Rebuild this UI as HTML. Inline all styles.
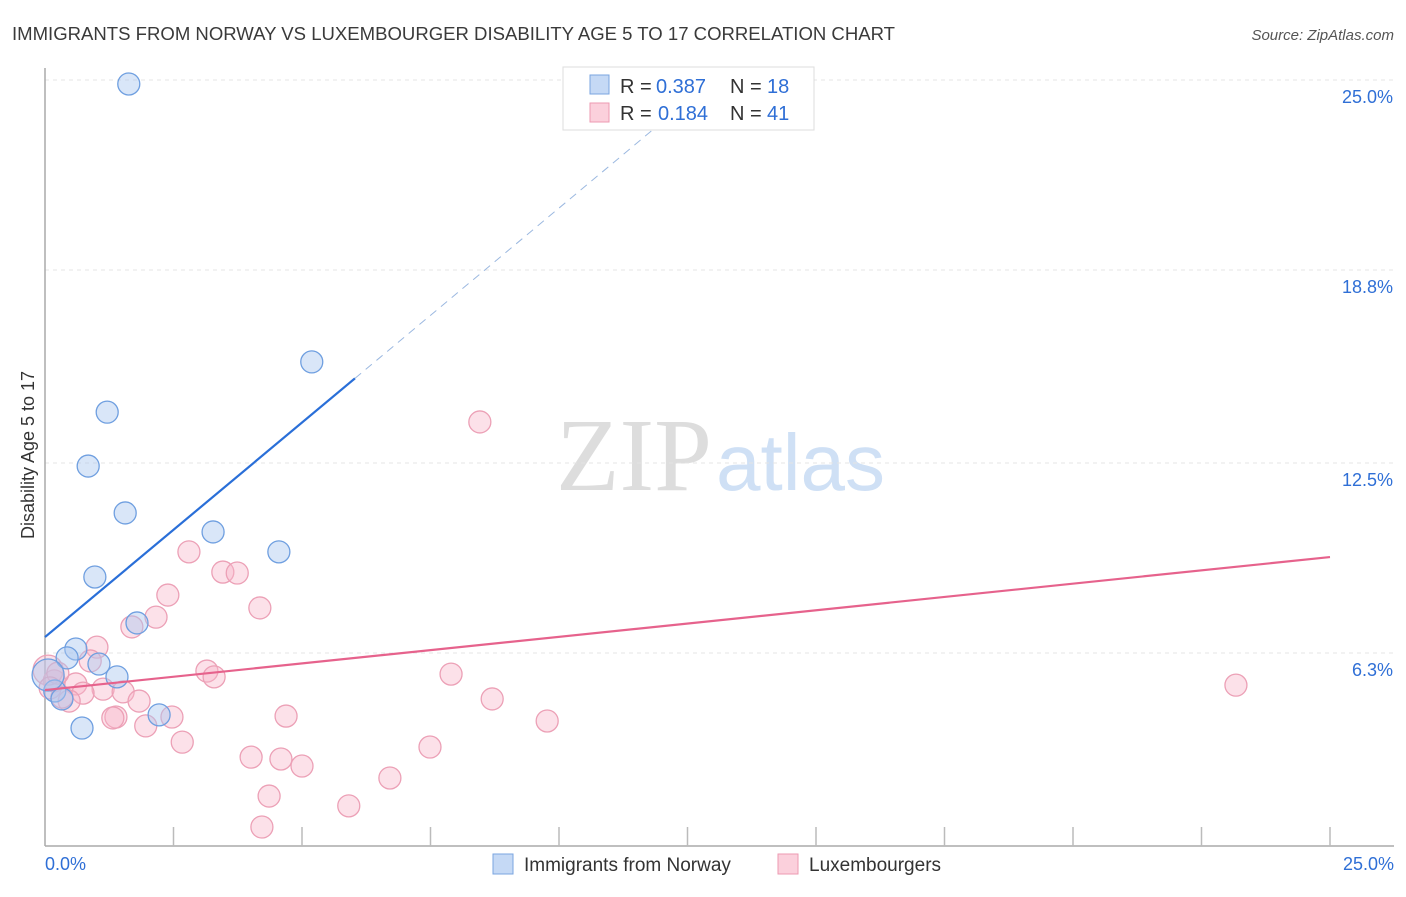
<!DOCTYPE html>
<html><head><meta charset="utf-8"><style>
body{margin:0;background:#fff;font-family:"Liberation Sans",sans-serif}
</style></head><body>
<svg width="1406" height="892" xmlns="http://www.w3.org/2000/svg" style="font-family:'Liberation Sans',sans-serif">
<text x="12" y="40" font-size="18" fill="#3a3a3a" textLength="883" lengthAdjust="spacingAndGlyphs">IMMIGRANTS FROM NORWAY VS LUXEMBOURGER DISABILITY AGE 5 TO 17 CORRELATION CHART</text>
<text x="1394" y="40" font-size="15" fill="#555" text-anchor="end" font-style="italic">Source: ZipAtlas.com</text>
<text x="712" y="490" font-size="104" fill="#ddd" text-anchor="end" font-family="Liberation Serif">ZIP</text>
<text x="716" y="490" font-size="80" fill="#cfe0f5">atlas</text>
<g id="grid"></g>
<g id="axes"></g>
<g id="marks"></g>
<text transform="translate(34,455) rotate(-90)" font-size="18" fill="#333" text-anchor="middle">Disability Age 5 to 17</text>
<g>
<rect x="563" y="67" width="251" height="63" fill="#fff" stroke="#ddd"/>
<rect x="590" y="75" width="19" height="19" fill="#c5d9f5" stroke="#7aa5e0"/>
<text x="620" y="93" font-size="20" fill="#333">R =</text>
<text x="656" y="93" font-size="20" fill="#2f6fd6">0.387</text>
<text x="730" y="93" font-size="20" fill="#333">N =</text>
<text x="767" y="93" font-size="20" fill="#2f6fd6">18</text>
<rect x="590" y="103" width="19" height="19" fill="#fbd0dc" stroke="#ec9ab2"/>
<text x="620" y="120" font-size="20" fill="#333">R =</text>
<text x="658" y="120" font-size="20" fill="#2f6fd6">0.184</text>
<text x="730" y="120" font-size="20" fill="#333">N =</text>
<text x="767" y="120" font-size="20" fill="#2f6fd6">41</text>
</g>
<g>
<rect x="493" y="854" width="20" height="20" fill="#c5d9f5" stroke="#7aa5e0"/>
<text x="524" y="871" font-size="19" fill="#333">Immigrants from Norway</text>
<rect x="778" y="854" width="20" height="20" fill="#fbd0dc" stroke="#ec9ab2"/>
<text x="809" y="871" font-size="19" fill="#333">Luxembourgers</text>
</g>
</svg>
<script>
const yTicks=[6.3,12.5,18.8,25.0];
const yTickLabels=["6.3%","12.5%","18.8%","25.0%"];
const xTickCount=10;
const blueX=[1.63,5.19,1.21,0.84,1.56,3.27,4.55,0.97,1.79,0.6,0.43,1.05,1.4,0.19,0.33,2.22,0.72,0.06];
const blueY=[24.87,15.8,14.16,12.4,10.87,10.25,9.6,8.78,7.28,6.43,6.14,5.94,5.52,5.06,4.8,4.28,3.85,5.58];
const pinkX=[8.46,2.8,3.46,3.74,2.39,4.18,2.16,1.69,1.01,0.88,3.15,3.29,7.9,23.17,0.6,1.13,1.52,0.74,1.83,0.47,8.7,1.38,1.32,2.47,4.69,9.77,1.96,2.67,7.49,4.01,4.59,5.0,6.71,4.36,5.91,4.22,0.18,0.06,0.25,0.1,0.33];
const pinkY=[13.84,9.6,8.94,8.91,8.19,7.77,7.47,7.15,6.49,6.04,5.71,5.52,5.61,5.25,5.29,5.12,5.03,4.99,4.73,4.73,4.8,4.21,4.18,4.21,4.24,4.08,3.92,3.39,3.23,2.9,2.84,2.61,2.22,1.63,1.31,0.62,5.39,5.74,5.64,5.16,4.86];
const blueLine=[6.82,1.4]; // intercept, slope
const blueSolidEnd=6.03;
const pinkLine=[5.09,9.43]; // y at x=0, y at x=25
const NS="http://www.w3.org/2000/svg";
const X=v=>45+v*1285/25, Y=v=>846-v*766/25;
function mk(t,a,p){const e=document.createElementNS(NS,t);for(const k in a)e.setAttribute(k,a[k]);document.getElementById(p).appendChild(e);return e;}
yTicks.forEach((t,i)=>{
 const l=mk('line',{x1:45,x2:1394,y1:Y(t),y2:Y(t),stroke:'#e4e4e4','stroke-dasharray':'4,4'},'grid');
 
 
 const tx=mk('text',{x:1393,y:Y(t)+23,'font-size':18,fill:'#2f6fd6','text-anchor':'end'},'grid');
 tx.textContent=yTickLabels[i];
 
 
});
let a=mk('line',{x1:45,x2:45,y1:68,y2:846,stroke:'#aaa','stroke-width':1.5},'axes');


a=mk('line',{x1:45,x2:1394,y1:846,y2:846,stroke:'#aaa','stroke-width':1.5},'axes');


for(let i=1;i<=xTickCount;i++){const v=25*i/xTickCount;
 const t=mk('line',{x1:X(v),x2:X(v),y1:827,y2:846,stroke:'#bbb','stroke-width':1.5},'axes');
 
 }
let xl=mk('text',{x:45,y:870,'font-size':18,fill:'#2f6fd6'},'axes');xl.textContent='0.0%';


xl=mk('text',{x:1394,y:870,'font-size':18,fill:'#2f6fd6','text-anchor':'end'},'axes');xl.textContent='25.0%';


pinkX.forEach((x,i)=>{const r=(x<0.1&&i>36)?15:11;
 const c=mk('circle',{cx:X(x),cy:Y(pinkY[i]),r:r,fill:'rgba(248,180,200,0.4)',stroke:'#eca0b6','stroke-width':1.3},'marks');
 
 });
blueX.forEach((x,i)=>{const r=i==17?16:11;
 const c=mk('circle',{cx:X(x),cy:Y(blueY[i]),r:r,fill:'rgba(170,200,240,0.45)',stroke:'#6f9fe0','stroke-width':1.3},'marks');
 
 });
const bx2=(25-blueLine[0])/blueLine[1];
let ln=mk('line',{x1:X(blueSolidEnd),y1:Y(blueLine[0]+blueLine[1]*blueSolidEnd),x2:X(bx2),y2:Y(25),stroke:'#9bb8e0','stroke-width':1,'stroke-dasharray':'8,6'},'marks');


ln=mk('line',{x1:X(0),y1:Y(blueLine[0]),x2:X(blueSolidEnd),y2:Y(blueLine[0]+blueLine[1]*blueSolidEnd),stroke:'#2a6fd8','stroke-width':2.2},'marks');


ln=mk('line',{x1:X(0),y1:Y(pinkLine[0]),x2:X(25),y2:Y(pinkLine[1]),stroke:'#e6628c','stroke-width':2.2},'marks');


</script>
</body></html>
